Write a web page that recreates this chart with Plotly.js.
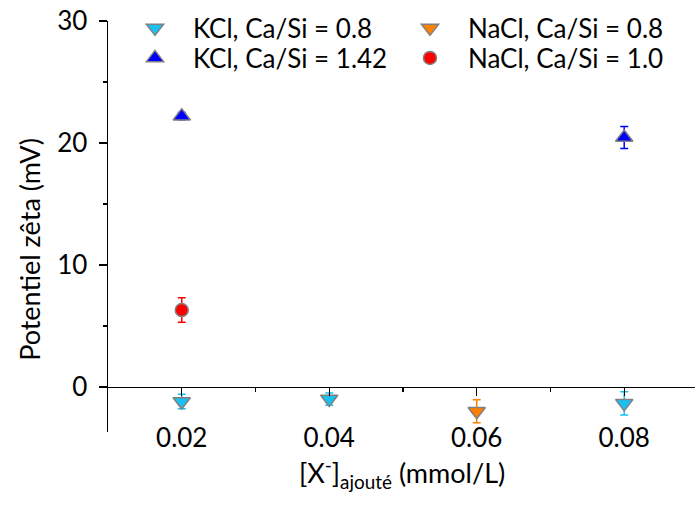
<!DOCTYPE html>
<html>
<head>
<meta charset="utf-8">
<script src="https://cdn.plot.ly/plotly-3.0.1.min.js"></script>
<style>html,body{margin:0;padding:0;background:#fff;}#chart{width:695px;height:506px;}</style>
</head>
<body>
<div id="chart"></div>
<script>
// Data
const kcl08_x = [0.02, 0.04, 0.08];
const kcl08_y = [-1.2, -1.0, -1.35];
const kcl08_err = [0.6, 0.5, 0.95];

const nacl08_x = [0.06];
const nacl08_y = [-2.0];
const nacl08_err = [0.95];

const kcl142_x = [0.02, 0.08];
const kcl142_y = [22.2, 20.45];
const kcl142_err = [0.3, 0.9];

const nacl10_x = [0.02];
const nacl10_y = [6.3];
const nacl10_err = [1.0];

const xTickVals = [0.02, 0.04, 0.06, 0.08];
const xTickText = ['0.02', '0.04', '0.06', '0.08'];
const yTickVals = [0, 10, 20, 30];

const names = ['KCl, Ca/Si = 0.8', 'NaCl, Ca/Si = 0.8', 'KCl, Ca/Si = 1.42', 'NaCl, Ca/Si = 1.0'];

const FONT = 'Lato, "Open Sans", sans-serif';
const outline = {color: '#808080', width: 1.5};

function trace(x, y, err, name, symbol, color, size, legend) {
  return {
    type: 'scatter', mode: 'markers', x: x, y: y, name: name, legend: legend,
    marker: {symbol: symbol, color: color, size: size, line: outline},
    error_y: {type: 'data', array: err, visible: true, color: color, thickness: 1.5, width: 4},
    cliponaxis: false
  };
}

const data = [
  trace(kcl08_x, kcl08_y, kcl08_err, names[0], 'triangle-down', '#1AC0F2', 15, 'legend'),
  trace(nacl08_x, nacl08_y, nacl08_err, names[1], 'triangle-down', '#FF8000', 15, 'legend'),
  trace(kcl142_x, kcl142_y, kcl142_err, names[2], 'triangle-up', '#0000FF', 15, 'legend2'),
  trace(nacl10_x, nacl10_y, nacl10_err, names[3], 'circle', '#FF0000', 13, 'legend2')
];

const yMin = -3.7, yMax = 30;

function legendCfg(y) {
  return {
    orientation: 'h', x: 0.0153, y: y, xanchor: 'left', yanchor: 'middle',
    entrywidth: 194, entrywidthmode: 'pixels', itemwidth: 66,
    font: {family: FONT, size: 26, color: '#000'},
    bgcolor: 'rgba(0,0,0,0)', borderwidth: 0
  };
}

const layout = {
  width: 695, height: 506,
  margin: {l: 108, r: 0, t: 21, b: 74, pad: 0},
  paper_bgcolor: '#fff', plot_bgcolor: '#fff',
  font: {family: FONT, color: '#000'},
  showlegend: true,
  legend: legendCfg(0.983),
  legend2: legendCfg(0.91),
  xaxis: {
    range: [0.01, 0.0896], anchor: 'free', position: (0 - yMin) / (yMax - yMin),
    showgrid: false, zeroline: false, showline: true, linecolor: '#000', linewidth: 1.4,
    ticks: 'outside', ticklen: 8, tickwidth: 1.4, tickcolor: '#000',
    tickvals: xTickVals, ticktext: xTickText, ticklabelstandoff: 20,
    tickfont: {family: FONT, size: 26, color: '#000'},
    minor: {tickvals: [0.03, 0.05, 0.07], ticks: 'outside', ticklen: 4, tickwidth: 1.4, tickcolor: '#000'}
  },
  yaxis: {
    range: [yMin, yMax],
    showgrid: false, zeroline: false, showline: true, linecolor: '#000', linewidth: 1.4,
    ticks: 'outside', ticklen: 8, tickwidth: 1.4, tickcolor: '#000',
    tickvals: yTickVals, ticklabelstandoff: 6,
    tickfont: {family: FONT, size: 26, color: '#000'},
    minor: {tickvals: [5, 15, 25], ticks: 'outside', ticklen: 4, tickwidth: 1.4, tickcolor: '#000'}
  },
  annotations: [
    {text: 'Potentiel zêta (mV)', xref: 'paper', yref: 'paper', x: -0.135, y: 0.445,
     xanchor: 'center', yanchor: 'middle', textangle: -90, showarrow: false,
     font: {family: FONT, size: 27, color: '#000'}},
    {text: '[X<sup>-</sup>]<sub>ajouté</sub> (mmol/L)', xref: 'paper', yref: 'paper', x: 0.5, y: -0.1,
     xanchor: 'center', yanchor: 'middle', showarrow: false,
     font: {family: FONT, size: 27, color: '#000'}}
  ]
};

Plotly.newPlot('chart', data, layout, {displayModeBar: false, staticPlot: true});
</script>
</body>
</html>
